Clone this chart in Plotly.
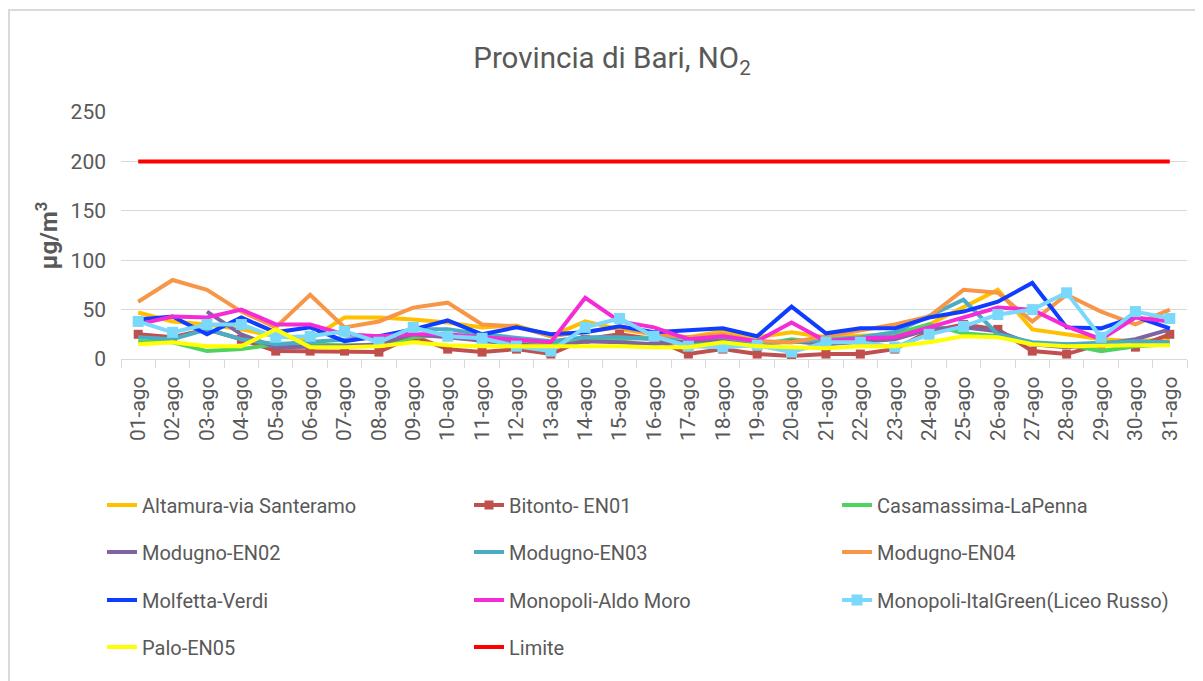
import plotly.graph_objects as go

days = [f"{d:02d}-ago" for d in range(1, 32)]

altamura = [47, 38, 35, 30, 23, 20, 42, 42, 40, 37, 32, 34, 23, 38, 30, 25, 22, 28, 22, 27, 22, 23, 25, 35, 53, 70, 30, 25, 20, 18, 20]
bitonto = [25, 22, 30, 20, 8, 8, 8, 7, 23, 10, 7, 10, 5, 20, 25, 20, 5, 10, 5, 3, 5, 5, 10, 28, 35, 30, 8, 5, 15, 12, 25]
casamassima = [18, 17, 8, 10, 15, 14, 14, 14, 22, 25, 18, 17, 15, 18, 20, 22, 15, 18, 14, 20, 16, 20, 25, 35, 26, 23, 15, 15, 8, 13, 15]
modugno_en02 = [None, None, 48, 25, 12, 12, 13, 15, 25, 22, 18, 15, 12, 18, 17, 15, 18, 20, 15, 18, 15, 18, 20, 30, 32, 28, 15, 12, 15, 20, 30]
modugno_en03 = [22, 20, 30, 20, 15, 17, 20, 22, 30, 30, 25, 22, 18, 22, 22, 20, 22, 22, 17, 17, 20, 22, 27, 43, 60, 25, 17, 15, 17, 18, 17]
modugno_en04 = [58, 80, 70, 48, 32, 65, 32, 38, 52, 57, 35, 33, 23, 28, 32, 25, 22, 25, 18, 17, 23, 28, 35, 43, 70, 67, 38, 65, 48, 35, 50]
molfetta = [40, 43, 25, 42, 27, 32, 18, 23, 30, 39, 25, 32, 25, 27, 33, 27, 29, 31, 23, 53, 26, 31, 31, 42, 48, 58, 77, 32, 31, 43, 31]
monopoli_aldo = [35, 43, 42, 50, 35, 35, 25, 23, 25, 25, 22, 20, 17, 62, 38, 32, 20, 23, 18, 37, 18, 21, 22, 32, 42, 52, 50, 33, 20, 42, 38]
monopoli_ital = [38, 27, 35, 35, 22, 23, 28, 17, 32, 23, 21, 13, 8, 32, 41, 23, 13, 12, 14, 7, 17, 17, 12, 25, 33, 45, 50, 67, 22, 48, 41]
palo = [15, 17, 13, 13, 30, 12, 12, 13, 17, 14, 13, 13, 13, 14, 13, 12, 12, 17, 13, 12, 11, 13, 13, 17, 23, 22, 15, 13, 14, 14, 14]
limite = [200] * 31

y_ticks = [0, 50, 100, 150, 200, 250]

FONT = "Roboto, sans-serif"
TXT = "#595959"

series = [
    ("Altamura-via Santeramo", altamura, "#FFC000", None, 0),
    ("Bitonto- EN01", bitonto, "#C0504D", 9, 1),
    ("Casamassima-LaPenna", casamassima, "#4ED360", None, 2),
    ("Modugno-EN02", modugno_en02, "#8064A2", None, 0),
    ("Modugno-EN03", modugno_en03, "#4BACC6", None, 1),
    ("Modugno-EN04", modugno_en04, "#F79646", None, 2),
    ("Molfetta-Verdi", molfetta, "#0F3DFF", None, 0),
    ("Monopoli-Aldo Moro", monopoli_aldo, "#F52BD6", None, 1),
    ("Monopoli-ItalGreen(Liceo Russo)", monopoli_ital, "#7AD9FB", 11, 2),
    ("Palo-EN05", palo, "#FFFF00", None, 0),
    ("Limite", limite, "#FF0000", None, 1),
]

# the page body has an 8px margin, so figure coords = screen coords - 8
OFF = 8
FW, FH = 1203 - OFF, 681 - OFF
L, R, T, B0 = 121 - OFF, 1187 - OFF, 112 - OFF, 359 - OFF
W, H = R - L, B0 - T

def px_x(p):
    return (p - L) / W

def px_y(p):
    return (B0 - p) / H

row_y = [505 - OFF, 552 - OFF, 600 - OFF, 647 - OFF]
col_x = [102 - OFF, 469 - OFF, 837 - OFF]

fig = go.Figure()
layout_legends = {}
for i, (name, vals, color, msize, col) in enumerate(series):
    lname = "legend" if i == 0 else f"legend{i + 1}"
    row = i // 3
    mode = "lines+markers" if msize else "lines"
    fig.add_trace(go.Scatter(
        x=days, y=vals, name=name, mode=mode,
        line=dict(color=color, width=4),
        marker=dict(symbol="square", size=msize or 6, color=color),
        legend=lname, connectgaps=False,
    ))
    layout_legends[lname] = dict(
        x=px_x(col_x[col]), y=px_y(row_y[row]),
        xanchor="left", yanchor="middle",
        bgcolor="rgba(0,0,0,0)", borderwidth=0,
        font=dict(family=FONT, size=20, color=TXT),
    )

fig.update_layout(
    width=FW, height=FH,
    margin=dict(l=L, r=FW - R, t=T, b=FH - B0, autoexpand=False),
    paper_bgcolor="white", plot_bgcolor="white",
    font=dict(family=FONT, color=TXT),
    showlegend=True,
    title=dict(text="Provincia di Bari, NO<sub>2</sub>", x=(612 - OFF) / FW, xref="container",
               xanchor="center", y=1 - (58 - OFF) / FH, yref="container", yanchor="middle",
               font=dict(family=FONT, size=29.5, color=TXT)),
    **layout_legends,
)

fig.update_xaxes(
    type="category", range=[-0.5, 30.5], tickangle=-90,
    showline=True, linecolor="#D9D9D9", linewidth=1,
    ticks="outside", ticklen=8, tickcolor="#D9D9D9", tickson="boundaries",
    ticklabelstandoff=8,
    showgrid=False, tickfont=dict(family=FONT, size=21, color=TXT),
    automargin=False,
)
fig.update_yaxes(
    range=[0, 250], tickvals=y_ticks, showgrid=True, gridcolor="#D9D9D9", gridwidth=1,
    zeroline=False, showline=False, ticks="", ticklabelstandoff=14,
    tickfont=dict(family=FONT, size=21, color=TXT),
    title=dict(text="<b>µg/m<sup>3</sup></b>", standoff=6,
               font=dict(family=FONT, size=24, color=TXT)),
    automargin=False,
)

fig.add_shape(type="rect", xref="paper", yref="paper",
              x0=px_x(1), x1=px_x(FW + 20), y0=px_y(FH + 20), y1=px_y(2),
              line=dict(color="#D9D9D9", width=2), fillcolor="rgba(0,0,0,0)", layer="below")

fig.write_html("out.html")
